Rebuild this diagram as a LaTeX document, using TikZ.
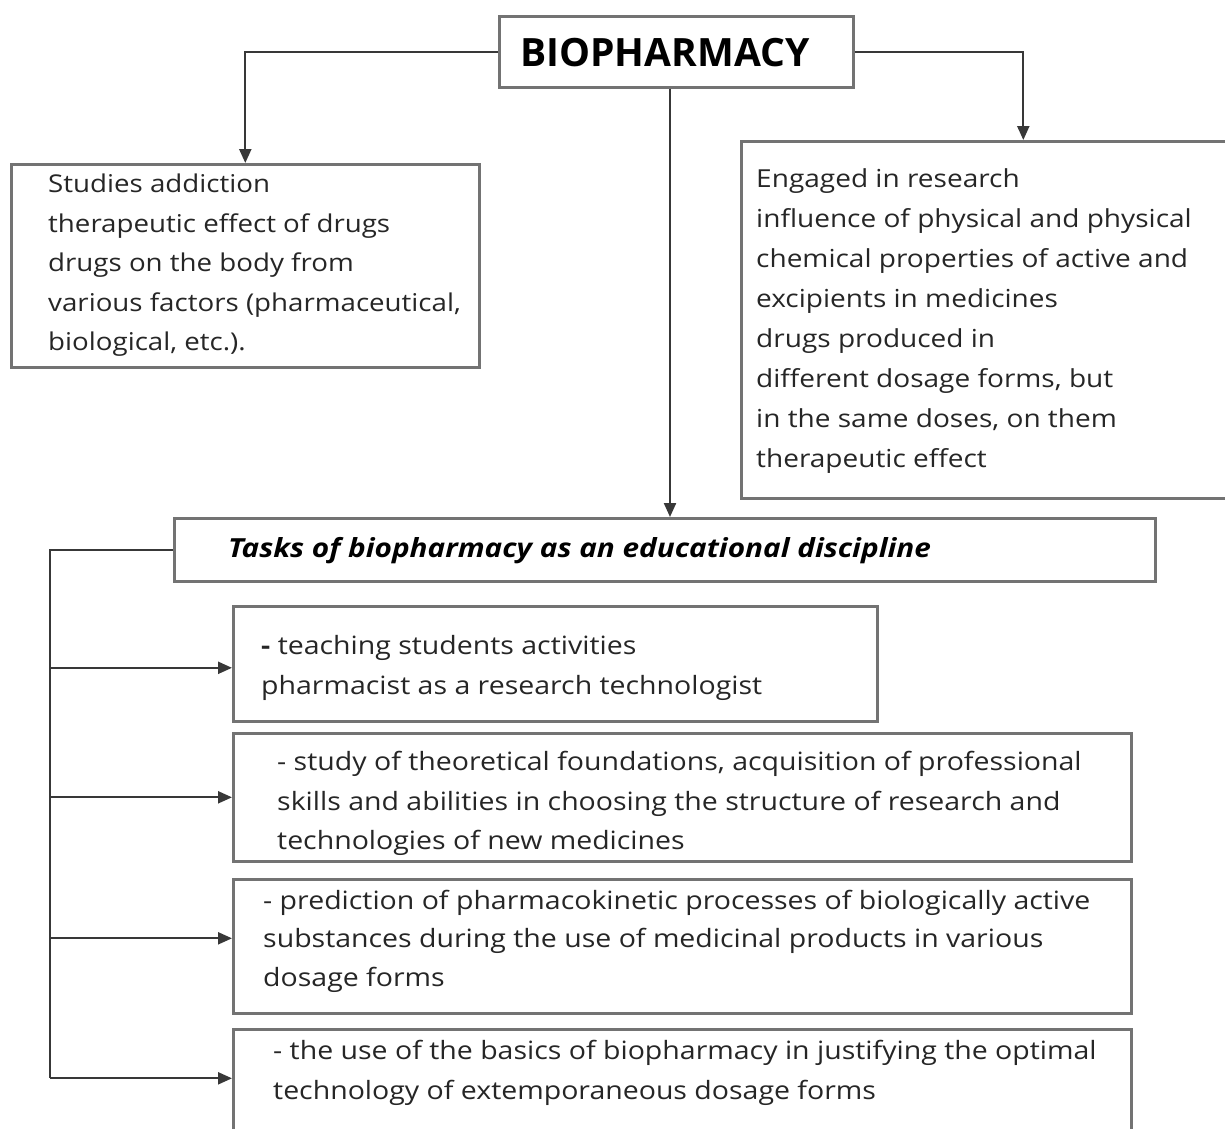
\documentclass[tikz,border=0pt]{standalone}
\usepackage{fontspec}
\setmainfont{Open Sans}
\newfontfamily\bodyfont[FakeStretch=1.13]{Open Sans}
\usetikzlibrary{arrows.meta}
\definecolor{boxgray}{gray}{0.45}
\definecolor{linegray}{gray}{0.22}
\definecolor{textc}{gray}{0.15}
\begin{document}
\begin{tikzpicture}[x=1pt,y=-1pt,
  box/.style={draw=boxgray, line width=2.6pt, rectangle, inner sep=0pt, anchor=north west},
  txt/.style={inner sep=0pt, anchor=north west, align=left, text=textc,
              font=\bodyfont\fontsize{24.5}{39.5}\selectfont},
  tasktxt/.style={txt, font=\bodyfont\fontsize{25.2}{#1}\selectfont},
  conn/.style={draw=linegray, line width=2.2pt},
  arr/.style={conn, -{Triangle[length=14pt,width=12pt]}}]
\useasboundingbox[fill=white] (0,0) rectangle (1225,1128);

% boxes
\node[box, minimum width=354pt, minimum height=71pt]  (root)  at (498,15)  {};
\node[box, minimum width=468pt, minimum height=203pt] (left)  at (10,163)  {};
\node[box, minimum width=564pt, minimum height=357pt] (right) at (740,140) {};
\node[box, minimum width=981pt, minimum height=63pt]  (tasks) at (173,517) {};
\node[box, minimum width=644pt, minimum height=115pt] (t1)    at (232,605) {};
\node[box, minimum width=898pt, minimum height=128pt] (t2)    at (232,732) {};
\node[box, minimum width=898pt, minimum height=134pt] (t3)    at (232,878) {};
\node[box, minimum width=898pt, minimum height=112pt] (t4)    at (232,1028) {};

% texts
\node[inner sep=0pt, anchor=base west, text=black, font=\fontsize{39}{40}\selectfont\bfseries]
  (rootlabel) at (520,66) {BIOPHARMACY};
\node[txt] (lefttext) at (48,165) {\strut Studies addiction\\
  therapeutic effect of drugs\\
  drugs on the body from\\
  various factors (pharmaceutical,\\
  biological, etc.).};
\node[txt, font=\bodyfont\fontsize{24.8}{40}\selectfont] (righttext) at (756,159) {\strut Engaged in research\\
  influence of physical and physical\\
  chemical properties of active and\\
  excipients in medicines\\
  drugs produced in\\
  different dosage forms, but\\
  in the same doses, on them\\
  therapeutic effect};
\node[inner sep=0pt, anchor=base west, text=black,
      font=\bodyfont\fontsize{26.3}{30}\selectfont\bfseries\itshape]
  (taskslabel) at (228,557) {Tasks of biopharmacy as an educational discipline};
\node[tasktxt=40] (t1text) at (261,626) {\strut{\bfseries -} teaching students activities\\
  pharmacist as a research technologist};
\node[tasktxt=39.5] (t2text) at (277,743) {\strut - study of theoretical foundations, acquisition of professional\\
  skills and abilities in choosing the structure of research and\\
  technologies of new medicines};
\node[tasktxt=38.5] (t3text) at (263,882) {\strut - prediction of pharmacokinetic processes of biologically active\\
  substances during the use of medicinal products in various\\
  dosage forms};
\node[tasktxt=40] (t4text) at (273,1031) {\strut - the use of the basics of biopharmacy in justifying the optimal\\
  technology of extemporaneous dosage forms};

% connectors from the title
\coordinate (mid) at (670,0);
\coordinate (bus) at (50,0);
\coordinate (a1) at ([yshift=-4pt]t1.west);
\coordinate (a3) at ([yshift=8pt]t3.west);
\coordinate (a4) at ([yshift=7pt]t4.west);
\draw[arr] (root.west) -| (left.north);
\draw[arr] (root.east) -| (right.north);
\draw[arr] (root.south -| mid) -- (tasks.north -| mid);

% task bus on the left
\draw[conn] (tasks.west) -- (tasks.west -| bus) -- (bus |- a4);
\draw[arr] (bus |- a1) -- (a1);
\draw[arr] (bus |- t2.west) -- (t2.west);
\draw[arr] (bus |- a3) -- (a3);
\draw[arr] (bus |- a4) -- (a4);
\end{tikzpicture}
\end{document}
